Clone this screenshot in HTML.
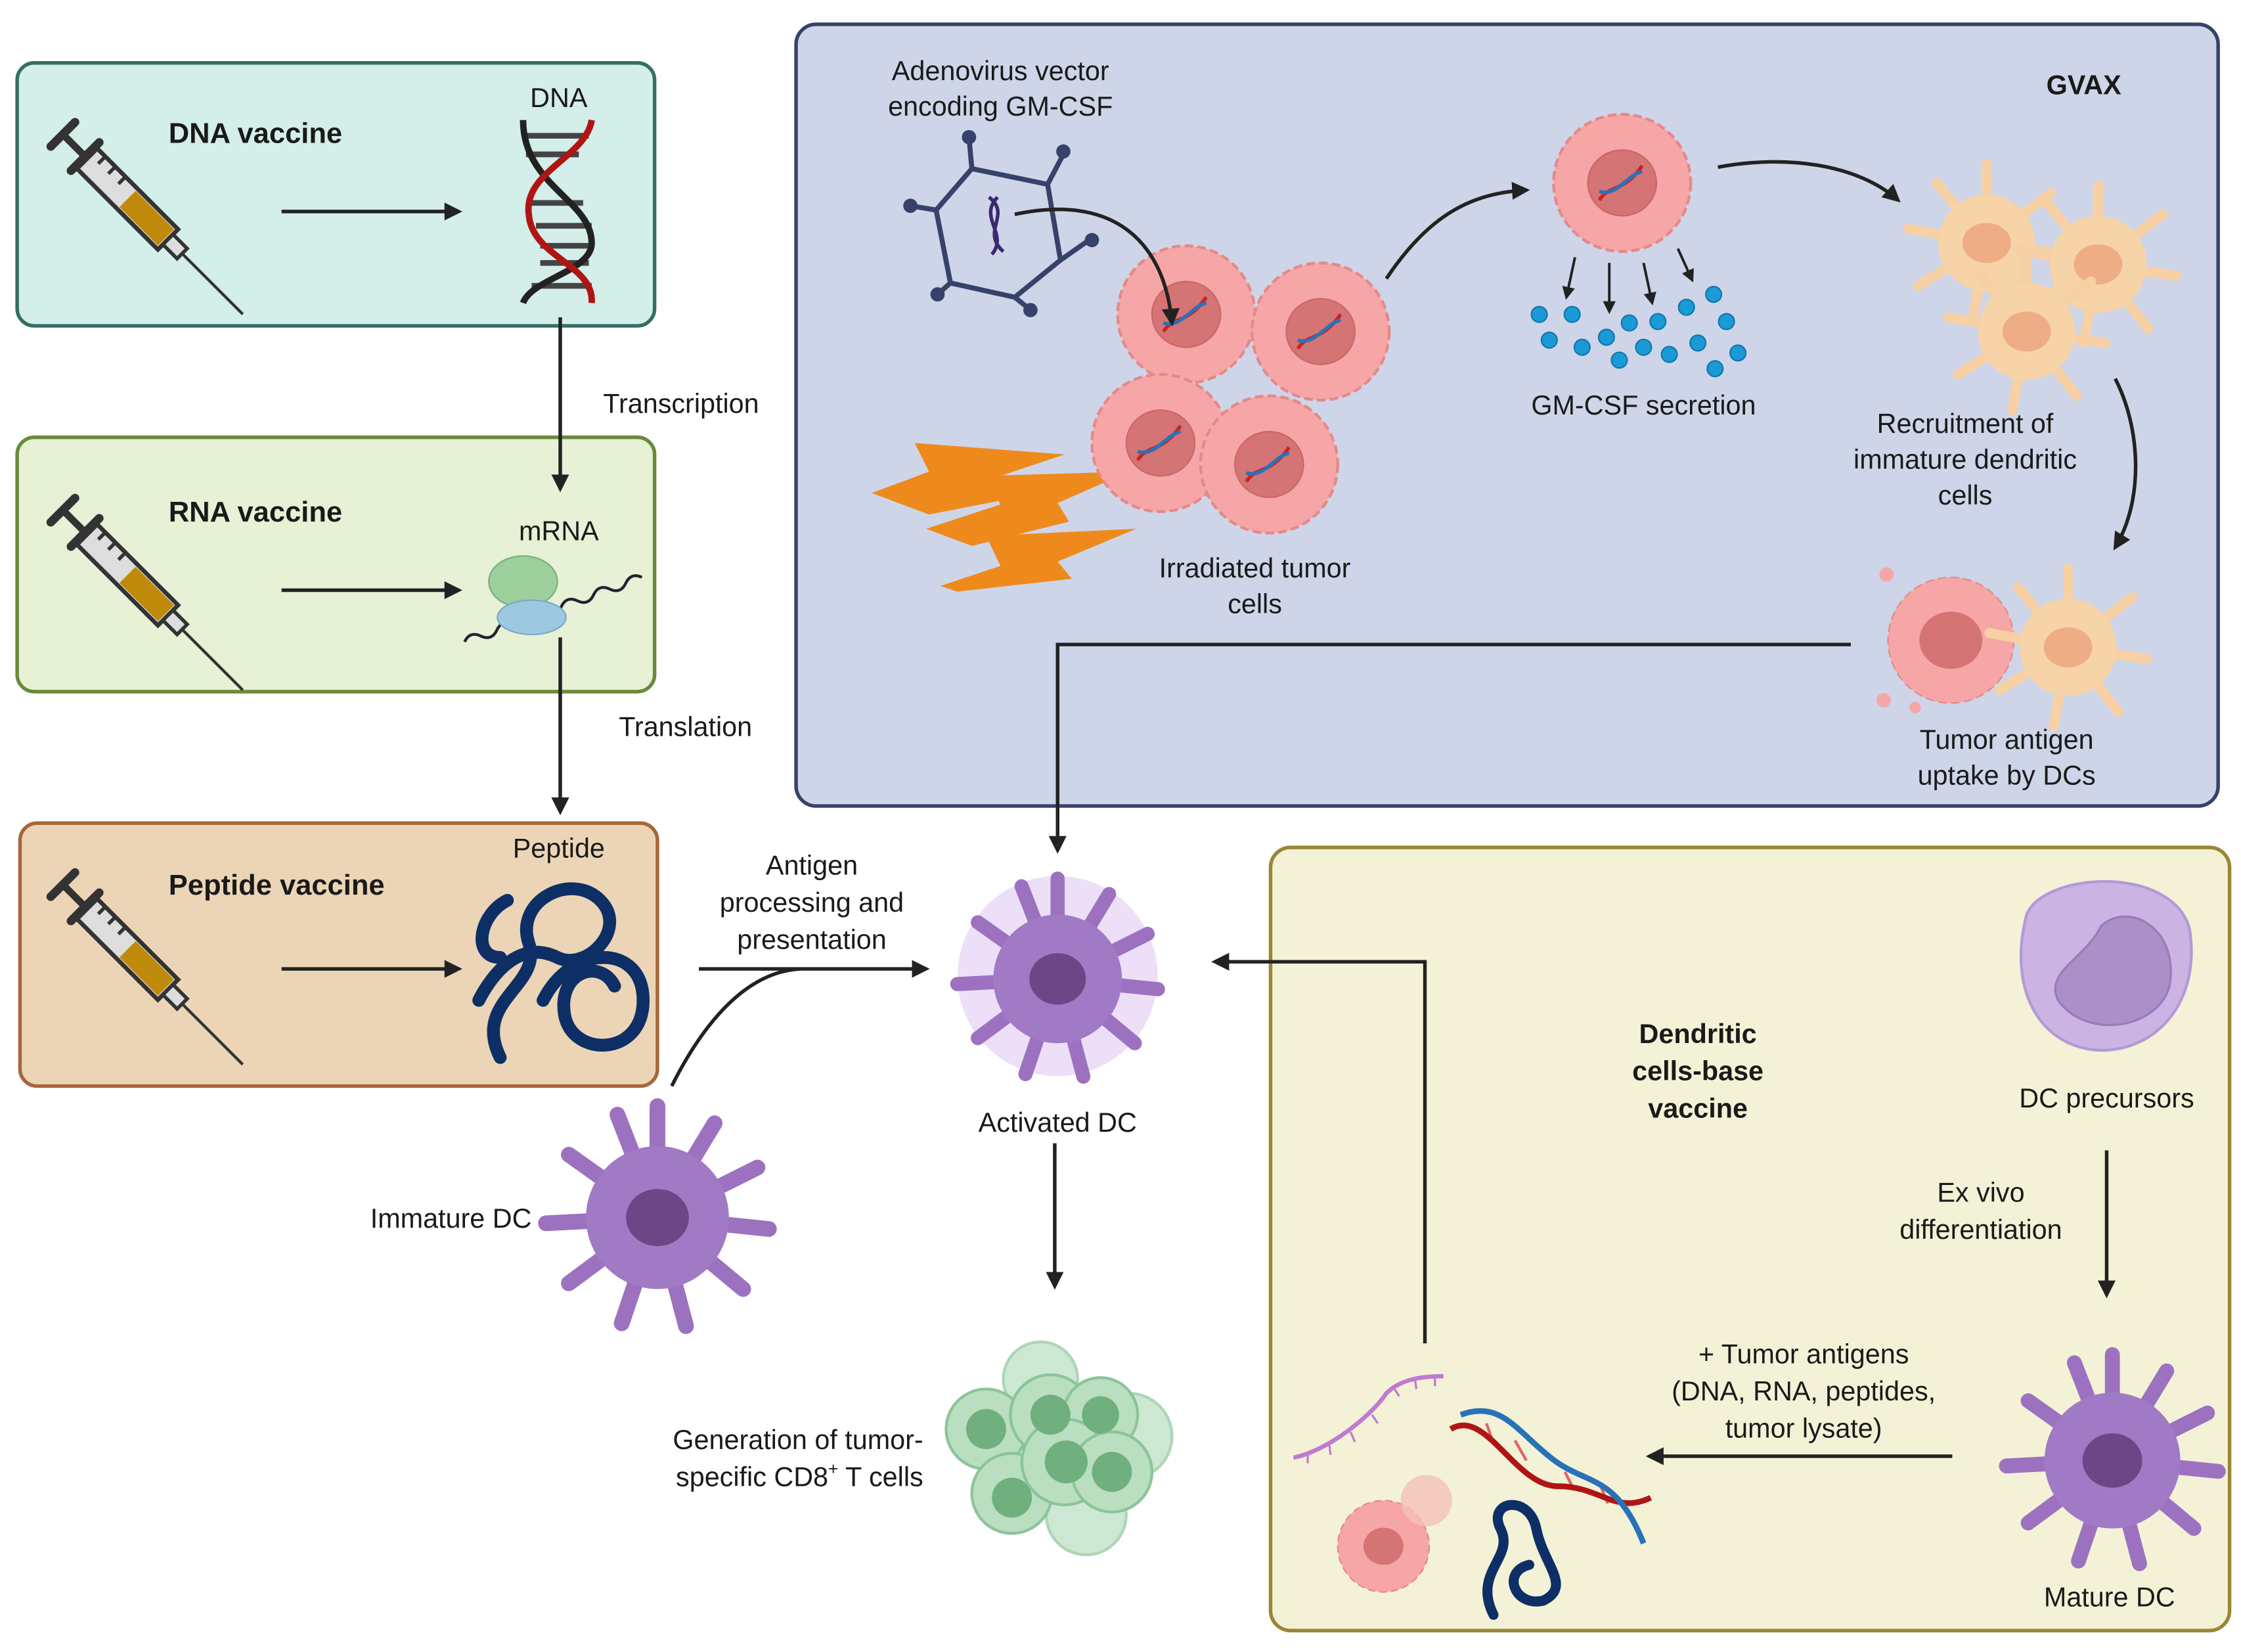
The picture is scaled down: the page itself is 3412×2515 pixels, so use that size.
<!DOCTYPE html>
<html><head><meta charset="utf-8"><style>
html,body{margin:0;padding:0;background:#fff;}
svg{display:block;}
text{font-family:"Liberation Sans",sans-serif;fill:#1a1a1a;}
</style></head><body>
<svg width="3412" height="2515" viewBox="0 0 1568 1156" preserveAspectRatio="none" xmlns="http://www.w3.org/2000/svg">
<defs>
<marker id="ah" viewBox="0 0 10 10" refX="8" refY="5" markerWidth="5" markerHeight="5" orient="auto-start-reverse"><path d="M0,0 L10,5 L0,10 z" fill="#222"/></marker>
<g id="syr">
 <line x1="0" y1="-12" x2="0" y2="12" stroke="#333" stroke-width="6" stroke-linecap="round"/>
 <line x1="0" y1="0" x2="22" y2="0" stroke="#333" stroke-width="5"/>
 <line x1="22" y1="-14" x2="22" y2="14" stroke="#333" stroke-width="6" stroke-linecap="round"/>
 <rect x="24" y="-10" width="80" height="20" fill="#ddd" stroke="#333" stroke-width="3"/>
 <rect x="64" y="-8" width="38" height="16" fill="#bf8a0a"/>
 <rect x="104" y="-5" width="14" height="10" fill="#ddd" stroke="#333" stroke-width="2.5"/>
 <line x1="118" y1="0" x2="178" y2="0" stroke="#333" stroke-width="2"/>
 <line x1="32" y1="-10" x2="32" y2="-3" stroke="#333" stroke-width="2.5"/>
 <line x1="42" y1="-10" x2="42" y2="-3" stroke="#333" stroke-width="2.5"/>
 <line x1="52" y1="-10" x2="52" y2="-3" stroke="#333" stroke-width="2.5"/>
</g>
<g id="tumor">
 <circle r="48" fill="#f6a6a6" stroke="#e48989" stroke-width="2" stroke-dasharray="6 3"/>
 <ellipse rx="24" ry="23" fill="#d47474" stroke="#c66" stroke-width="1"/>
 <path d="M-16,12 C-8,0 0,8 14,-12" stroke="#c22" stroke-width="2.5" fill="none"/>
 <path d="M-16,6 C-4,10 4,-6 14,-8" stroke="#2a72b8" stroke-width="2.5" fill="none"/>
</g>
<g id="dcp" stroke="#9c72c0" stroke-width="11" stroke-linecap="round">
 <line x1="0" y1="0" x2="0" y2="-78"/><line x1="0" y1="0" x2="40" y2="-66"/><line x1="0" y1="0" x2="70" y2="-35"/>
 <line x1="0" y1="0" x2="78" y2="8"/><line x1="0" y1="0" x2="60" y2="50"/><line x1="0" y1="0" x2="20" y2="76"/>
 <line x1="0" y1="0" x2="-25" y2="74"/><line x1="0" y1="0" x2="-62" y2="46"/><line x1="0" y1="0" x2="-78" y2="4"/>
 <line x1="0" y1="0" x2="-62" y2="-44"/><line x1="0" y1="0" x2="-28" y2="-72"/>
 <circle r="50" fill="#a07ac4" stroke="none"/>
 <ellipse rx="22" ry="20" fill="#6c4686" stroke="none"/>
</g>
<g id="dco" stroke="#f7d0a4" stroke-width="7" stroke-linecap="round">
 <line x1="0" y1="0" x2="0" y2="-55"/><line x1="0" y1="0" x2="45" y2="-35"/><line x1="0" y1="0" x2="55" y2="8"/>
 <line x1="0" y1="0" x2="35" y2="45"/><line x1="0" y1="0" x2="-10" y2="55"/><line x1="0" y1="0" x2="-48" y2="30"/>
 <line x1="0" y1="0" x2="-55" y2="-10"/><line x1="0" y1="0" x2="-35" y2="-42"/>
 <circle r="34" fill="#f7d3a8" stroke="none"/>
 <ellipse rx="17" ry="14" fill="#efad86" stroke="none"/>
</g>
</defs>

<rect x="12" y="44" width="446" height="184" rx="12" fill="#d4eee9" stroke="#356e62" stroke-width="2.5"/>
<rect x="12" y="306" width="446" height="178" rx="12" fill="#e6f1d5" stroke="#6a8a3a" stroke-width="2.5"/>
<rect x="14" y="576" width="446" height="184" rx="12" fill="#ecd5b6" stroke="#a8653a" stroke-width="2.5"/>
<rect x="557" y="17" width="995" height="547" rx="14" fill="#ced5e8" stroke="#36426a" stroke-width="2.5"/>
<rect x="889" y="593" width="671" height="548" rx="14" fill="#f4f2d6" stroke="#9a8636" stroke-width="2.5"/>

<use href="#syr" transform="translate(44,94) rotate(45)"/>
<use href="#syr" transform="translate(44,357) rotate(45)"/>
<use href="#syr" transform="translate(44,619) rotate(45)"/>

<text x="118" y="100" font-size="20" font-weight="bold">DNA vaccine</text>
<text x="118" y="365" font-size="20" font-weight="bold">RNA vaccine</text>
<text x="118" y="626" font-size="20" font-weight="bold">Peptide vaccine</text>
<text x="391" y="75" font-size="19" text-anchor="middle">DNA</text>
<text x="391" y="378" font-size="19" text-anchor="middle">mRNA</text>
<text x="391" y="600" font-size="19" text-anchor="middle">Peptide</text>

<g stroke="#444" stroke-width="4">
<line x1="368" y1="95" x2="412" y2="95"/><line x1="368" y1="108" x2="405" y2="108"/><line x1="372" y1="142" x2="408" y2="142"/><line x1="375" y1="158" x2="414" y2="158"/><line x1="378" y1="172" x2="414" y2="172"/><line x1="378" y1="184" x2="412" y2="184"/><line x1="372" y1="200" x2="414" y2="200"/>
</g>
<path d="M366,84 C366,130 414,140 414,170 C414,190 372,195 366,212" stroke="#222" stroke-width="4.5" fill="none"/>
<path d="M414,84 C410,110 366,120 370,150 C372,180 416,185 414,212" stroke="#b01515" stroke-width="4.5" fill="none"/>

<path d="M315,428 q6,-6 12,0 q6,6 12,0 q6,-6 12,0 q6,6 12,0 q6,-6 12,0 q6,6 12,0 q6,-6 12,0 q6,6 12,0 q6,-6 12,0 q6,6 12,0 q6,-6 12,0" transform="rotate(-20 380 410)" stroke="#223" stroke-width="2" fill="none"/>
<ellipse cx="366" cy="407" rx="24" ry="18" fill="#9ccf9c" stroke="#7ab07a"/>
<ellipse cx="372" cy="432" rx="24" ry="12" fill="#9cc8e0" stroke="#7aa8c8"/>

<g stroke="#0e2f66" stroke-width="9" fill="none" stroke-linecap="round">
<path d="M350,740 C330,700 380,690 370,660 C360,630 400,610 420,630 C440,650 410,680 390,670 C360,655 340,690 335,700"/>
<path d="M380,700 C400,660 450,660 450,700 C450,740 400,740 395,710 C390,680 420,670 430,690"/>
<path d="M355,630 C335,640 330,670 350,670"/>
</g>

<text x="700" y="56" font-size="19" text-anchor="middle">Adenovirus vector</text>
<text x="700" y="81" font-size="19" text-anchor="middle">encoding GM-CSF</text>
<g stroke="#36426a" stroke-width="3.5" fill="none">
<polygon points="680,118 733,129 742,182 710,208 665,198 655,147"/>
<line x1="680" y1="118" x2="678" y2="96"/><line x1="733" y1="129" x2="744" y2="108"/><line x1="742" y1="182" x2="762" y2="168"/>
<line x1="710" y1="208" x2="720" y2="216"/><line x1="665" y1="198" x2="656" y2="206"/><line x1="655" y1="147" x2="637" y2="144"/>
</g>
<g fill="#36426a"><circle cx="678" cy="96" r="5"/><circle cx="744" cy="106" r="5"/><circle cx="764" cy="168" r="5"/><circle cx="721" cy="217" r="5"/><circle cx="656" cy="206" r="5"/><circle cx="637" cy="144" r="5"/></g>
<path d="M692,138 C708,150 686,162 702,176" stroke="#3a2a70" stroke-width="2.5" fill="none"/>
<path d="M698,138 C684,152 706,164 694,178" stroke="#3a2a70" stroke-width="2.5" fill="none"/>

<g fill="#ee8a1c">
<polygon points="610,345 650,330 640,310 745,318 700,333 712,348 650,360"/>
<polygon points="648,370 700,353 690,333 790,330 740,352 748,365 680,382"/>
<polygon points="658,410 700,396 690,375 795,370 740,393 750,405 670,414"/>
</g>
<use href="#tumor" transform="translate(830,220)"/>
<use href="#tumor" transform="translate(924,232)"/>
<use href="#tumor" transform="translate(812,310)"/>
<use href="#tumor" transform="translate(888,325)"/>
<text x="878" y="404" font-size="19" text-anchor="middle">Irradiated tumor</text>
<text x="878" y="429" font-size="19" text-anchor="middle">cells</text>

<use href="#tumor" transform="translate(1135,128)"/>
<g stroke="#222" stroke-width="1.8" marker-end="url(#ah)">
<line x1="1102" y1="180" x2="1096" y2="208"/><line x1="1126" y1="184" x2="1126" y2="218"/><line x1="1150" y1="184" x2="1156" y2="212"/><line x1="1174" y1="174" x2="1184" y2="196"/>
</g>
<g fill="#1a9ad6" stroke="#0f76aa" stroke-width="1">
<circle cx="1077" cy="220" r="5.5"/><circle cx="1100" cy="220" r="5.5"/><circle cx="1084" cy="238" r="5.5"/><circle cx="1107" cy="243" r="5.5"/><circle cx="1124" cy="236" r="5.5"/><circle cx="1140" cy="226" r="5.5"/><circle cx="1160" cy="225" r="5.5"/><circle cx="1180" cy="215" r="5.5"/><circle cx="1199" cy="206" r="5.5"/><circle cx="1208" cy="225" r="5.5"/><circle cx="1133" cy="252" r="5.5"/><circle cx="1150" cy="243" r="5.5"/><circle cx="1168" cy="248" r="5.5"/><circle cx="1188" cy="240" r="5.5"/><circle cx="1200" cy="258" r="5.5"/><circle cx="1216" cy="247" r="5.5"/>
</g>
<text x="1150" y="290" font-size="19" text-anchor="middle">GM-CSF secretion</text>

<use href="#dco" transform="translate(1390,170)"/>
<use href="#dco" transform="translate(1468,185)"/>
<use href="#dco" transform="translate(1418,232)"/>
<text x="1375" y="303" font-size="19" text-anchor="middle">Recruitment of</text>
<text x="1375" y="328" font-size="19" text-anchor="middle">immature dendritic</text>
<text x="1375" y="353" font-size="19" text-anchor="middle">cells</text>

<g transform="translate(1365,448)"><circle r="44" fill="#f6a6a6" stroke="#e48989" stroke-dasharray="6 3"/><ellipse rx="22" ry="20" fill="#d47474"/></g>
<circle cx="1320" cy="402" r="5" fill="#f6a6a6"/><circle cx="1318" cy="490" r="5" fill="#f6a6a6"/><circle cx="1340" cy="495" r="4" fill="#f6a6a6"/>
<use href="#dco" transform="translate(1447,453)"/>
<text x="1404" y="524" font-size="19" text-anchor="middle">Tumor antigen</text>
<text x="1404" y="549" font-size="19" text-anchor="middle">uptake by DCs</text>
<text x="1458" y="66" font-size="19" font-weight="bold" text-anchor="middle">GVAX</text>

<g stroke="#222" stroke-width="2.5" fill="none" marker-end="url(#ah)">
<line x1="197" y1="148" x2="321" y2="148"/>
<line x1="197" y1="413" x2="321" y2="413"/>
<line x1="197" y1="678" x2="321" y2="678"/>
<line x1="392" y1="222" x2="392" y2="342"/>
<line x1="392" y1="446" x2="392" y2="568"/>
<line x1="489" y1="678" x2="648" y2="678"/>
<polyline points="1295,451 740,451 740,595"/>
<line x1="738" y1="800" x2="738" y2="900"/>
<line x1="1366" y1="1019" x2="1154" y2="1019"/>
<polyline points="997,940 997,673 850,673"/>
<line x1="1474" y1="805" x2="1474" y2="906"/>
<path d="M710,150 C780,135 815,170 820,226"/>
<path d="M970,195 C1000,150 1030,135 1068,133"/>
<path d="M1202,117 C1250,108 1300,115 1328,140"/>
<path d="M1480,265 C1498,300 1500,350 1480,383"/>
</g>
<path d="M470,760 C490,720 520,680 560,678" stroke="#222" stroke-width="2.5" fill="none"/>
<text x="422" y="289" font-size="19">Transcription</text>
<text x="433" y="515" font-size="19">Translation</text>
<text x="568" y="612" font-size="19" text-anchor="middle">Antigen</text>
<text x="568" y="638" font-size="19" text-anchor="middle">processing and</text>
<text x="568" y="664" font-size="19" text-anchor="middle">presentation</text>

<circle cx="740" cy="683" r="70" fill="#c9a4e8" opacity="0.35"/>
<use href="#dcp" transform="translate(740,685) scale(0.9)"/>
<text x="740" y="792" font-size="19" text-anchor="middle">Activated DC</text>
<use href="#dcp" transform="translate(460,852)"/>
<text x="372" y="859" font-size="19" text-anchor="end">Immature DC</text>

<g stroke="#8cc49a" stroke-width="2" fill="#b9dfc0">
<circle cx="728" cy="965" r="26" opacity="0.7"/><circle cx="790" cy="1005" r="30" opacity="0.7"/><circle cx="760" cy="1060" r="28" opacity="0.7"/>
<circle cx="690" cy="1000" r="28"/><circle cx="735" cy="990" r="28"/><circle cx="770" cy="990" r="26"/>
<circle cx="708" cy="1045" r="28"/><circle cx="745" cy="1023" r="30"/><circle cx="778" cy="1030" r="28"/>
</g>
<g fill="#6fb07e"><circle cx="690" cy="1000" r="14"/><circle cx="735" cy="990" r="14"/><circle cx="770" cy="990" r="13"/><circle cx="708" cy="1048" r="14"/><circle cx="746" cy="1023" r="15"/><circle cx="778" cy="1030" r="14"/></g>
<text x="646" y="1014" font-size="19" text-anchor="end">Generation of tumor-</text>
<text x="646" y="1040" font-size="19" text-anchor="end">specific CD8<tspan font-size="12" dy="-8">+</tspan><tspan dy="8"> T cells</tspan></text>

<text x="1188" y="730" font-size="19" font-weight="bold" text-anchor="middle">Dendritic</text>
<text x="1188" y="756" font-size="19" font-weight="bold" text-anchor="middle">cells-base</text>
<text x="1188" y="782" font-size="19" font-weight="bold" text-anchor="middle">vaccine</text>
<path d="M1418,640 C1430,610 1520,605 1532,650 C1540,700 1510,735 1470,735 C1425,733 1405,690 1418,640 z" fill="#cbb4e4" stroke="#b499d6" stroke-width="2"/>
<path d="M1470,648 C1490,630 1525,650 1518,690 C1510,720 1460,728 1440,700 C1430,680 1460,670 1470,648 z" fill="#ad8fc8" stroke="#9a7ab8" stroke-width="1.5"/>
<text x="1474" y="775" font-size="19" text-anchor="middle">DC precursors</text>
<text x="1386" y="841" font-size="19" text-anchor="middle">Ex vivo</text>
<text x="1386" y="867" font-size="19" text-anchor="middle">differentiation</text>
<use href="#dcp" transform="translate(1478,1022) scale(0.95)"/>
<text x="1476" y="1124" font-size="19" text-anchor="middle">Mature DC</text>
<text x="1262" y="954" font-size="19" text-anchor="middle">+ Tumor antigens</text>
<text x="1262" y="980" font-size="19" text-anchor="middle">(DNA, RNA, peptides,</text>
<text x="1262" y="1006" font-size="19" text-anchor="middle">tumor lysate)</text>

<path d="M905,1020 C930,1015 960,990 970,975 C980,965 995,963 1010,963" stroke="#c07ad0" stroke-width="3" fill="none"/>
<g stroke="#c07ad0" stroke-width="1.5"><line x1="915" y1="1016" x2="915" y2="1024"/><line x1="930" y1="1010" x2="931" y2="1018"/><line x1="945" y1="1002" x2="948" y2="1009"/><line x1="960" y1="990" x2="964" y2="996"/><line x1="975" y1="971" x2="979" y2="977"/><line x1="990" y1="965" x2="991" y2="972"/><line x1="1004" y1="963" x2="1004" y2="970"/></g>
<g stroke="#d66" stroke-width="2"><line x1="1040" y1="996" x2="1045" y2="1010"/><line x1="1060" y1="1008" x2="1068" y2="1022"/><line x1="1095" y1="1030" x2="1100" y2="1040"/><line x1="1120" y1="1040" x2="1125" y2="1052"/></g>
<path d="M1015,1000 C1040,985 1060,1040 1090,1040 C1120,1040 1130,1060 1155,1048" stroke="#b01515" stroke-width="4" fill="none"/>
<path d="M1022,990 C1050,980 1060,1000 1085,1020 C1110,1040 1130,1030 1150,1080" stroke="#2a72b8" stroke-width="4" fill="none"/>
<g transform="translate(968,1082)"><circle r="32" fill="#f6a6a6" stroke="#e48989" stroke-dasharray="5 3"/><ellipse rx="14" ry="13" fill="#d47474"/></g>
<circle cx="998" cy="1050" r="18" fill="#f5c0b8" opacity="0.8"/>
<g stroke="#0e2f66" stroke-width="7" fill="none" stroke-linecap="round">
<path d="M1045,1130 C1030,1100 1060,1090 1050,1070 C1040,1050 1070,1045 1075,1070 C1080,1095 1100,1110 1080,1120 C1060,1125 1050,1100 1070,1095"/>
</g>
</svg>
</body></html>
